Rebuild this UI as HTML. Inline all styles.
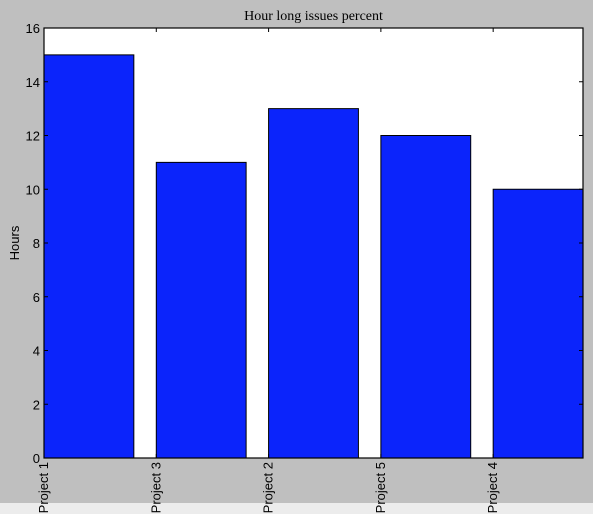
<!DOCTYPE html>
<html><head><meta charset="utf-8"><style>
html,body{margin:0;padding:0;background:#bfbfbf;}
svg{display:block;font-family:"Liberation Sans",sans-serif;}
</style></head><body>
<svg width="593" height="514">
<rect x="0" y="503" width="593" height="11" fill="#ececec"/>
<g id="plot"></g>
</svg>
<script>
const categories=["Project 1","Project 3","Project 2","Project 5","Project 4"];
const values=[15,11,13,12,10];
const yTicks=[0,2,4,6,8,10,12,14,16];
const L=44,R=583,T=28,B=458;
const xMin=0,xMax=4.8,yMin=0,yMax=16;
const xs=v=>L+(v-xMin)/(xMax-xMin)*(R-L);
const ys=v=>B-(v-yMin)/(yMax-yMin)*(B-T);
const NS="http://www.w3.org/2000/svg";
const g=document.getElementById('plot');
function mk(t,a){const e=document.createElementNS(NS,t);for(const k in a)e.setAttribute(k,a[k]);g.appendChild(e);return e;}
let e=mk('rect',{x:L,y:T,width:R-L,height:B-T,fill:'#fff'});


values.forEach((v,i)=>{
 const b=mk('rect',{x:xs(i),y:ys(v),width:xs(i+0.8)-xs(i),height:ys(0)-ys(v),fill:'#0b24fb',stroke:'#000','stroke-width':1});
 
 
});
e=mk('rect',{x:L,y:T,width:R-L,height:B-T,fill:'none',stroke:'#000','stroke-width':1.2});


yTicks.forEach(t=>{
 const y=ys(t);
 mk('line',{x1:L,x2:L+4,y1:y,y2:y,stroke:'#000'});
 mk('line',{x1:R-4,x2:R,y1:y,y2:y,stroke:'#000'});
 const tx=mk('text',{x:L-4,y:y+5,'text-anchor':'end','font-size':13,fill:'#000'});
 tx.textContent=t;
 
 
});
categories.forEach((c,i)=>{
 const x=xs(i);
 mk('line',{x1:x,x2:x,y1:B,y2:B-4,stroke:'#000'});
 mk('line',{x1:x,x2:x,y1:T,y2:T+4,stroke:'#000'});
 const tx=mk('text',{x:0,y:0,'text-anchor':'end','font-size':13,fill:'#000',transform:`translate(${x+4},${B+4}) rotate(-90)`});
 tx.textContent=c;
 
 
});
e=mk('text',{x:0,y:0,'text-anchor':'middle','font-size':13,transform:`translate(19,${(T+B)/2}) rotate(-90)`});
e.textContent='Hours';


e=mk('text',{x:(L+R)/2,y:20,'text-anchor':'middle','font-size':14,'font-family':'"Liberation Serif",serif'});
e.textContent='Hour long issues percent';


</script>
</body></html>
